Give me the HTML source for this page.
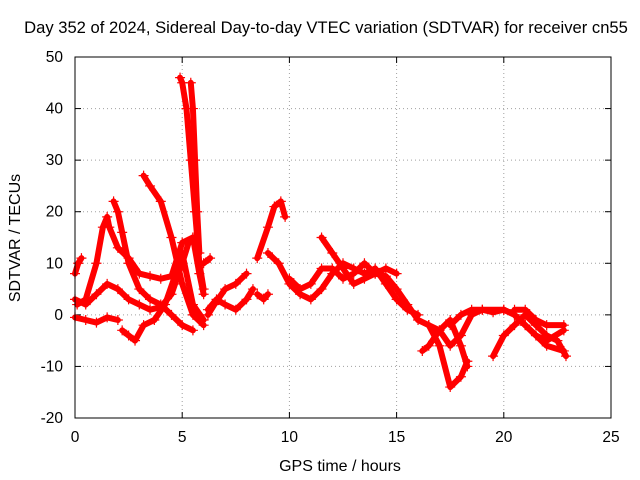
<!DOCTYPE html>
<html><head><meta charset="utf-8"><style>
body{margin:0;background:#fff;}
svg{display:block;font-family:"Liberation Sans",Arial,sans-serif;}
</style></head><body>
<svg id="chart" width="640" height="480">
<rect width="640" height="480" fill="#fff"/>
<text x="326" y="33" font-size="16.6" text-anchor="middle">Day 352 of 2024, Sidereal Day-to-day VTEC variation (SDTVAR) for receiver cn55</text>
<text x="340" y="471" font-size="16" text-anchor="middle">GPS time / hours</text>
<text transform="translate(20,238) rotate(-90)" font-size="16" text-anchor="middle">SDTVAR / TECUs</text>
<g id="grid"></g>
<g id="axes"></g>
<g id="marks"></g>
<rect x="75" y="57" width="536" height="361" fill="none" stroke="#000" stroke-width="1"/>
</svg>
<script>
const xTicks=[0,5,10,15,20,25];
const yTicks=[-20,-10,0,10,20,30,40,50];
const track1=[[0,8],[0.15,10],[0.3,11]];
const track2=[[0,3],[0.5,2],[1,4],[1.5,6],[2,5],[2.5,3],[3,2],[3.5,1],[4,1.5],[4.5,4],[5,10],[5.3,14],[5.5,15],[5.8,8],[6,4]];
const track3=[[0,-0.5],[0.5,-1],[1,-1.5],[1.5,-0.5],[2,-1]];
const track4=[[0.1,2],[0.5,3],[1,10],[1.3,17],[1.5,19],[1.6,17],[2,13],[2.5,11],[3,8],[3.5,7.5],[4,7],[4.5,7.5],[5,14],[5.5,15]];
const track5=[[1.8,22],[2,20],[2.2,16],[2.5,10],[3,5],[3.5,3],[4,2],[4.5,0],[5,-2],[5.5,-3]];
const track6=[[2.2,-3],[2.5,-4],[2.8,-5],[3.2,-2],[3.7,-1],[4.2,2],[4.7,8],[5,12],[5.5,2],[6,-1]];
const track7=[[4.9,46],[5,45],[5.2,40],[5.4,30],[5.6,20],[5.8,10],[6,5]];
const track8=[[5.4,45],[5.5,40],[5.6,30],[5.7,20],[5.8,12]];
const track9=[[3.2,27],[3.5,25],[4,22],[4.5,15],[5,6],[5.5,0],[6,-2]];
const track10=[[6.2,0],[6.5,2],[7,5],[7.5,6],[8,8]];
const track11=[[6.2,1],[6.6,3],[7,2],[7.5,1],[8,3],[8.3,5]];
const track12=[[6,10],[6.3,11]];
const track13=[[8.5,11],[9,17],[9.3,21],[9.6,22],[9.8,19]];
const track14=[[8.5,4],[8.8,3],[9,4]];
const track15=[[9,12],[9.5,10],[10,6],[10.5,4],[11,3],[11.5,5],[12,8],[12.5,10],[13,9],[13.5,8],[14,9],[14.5,6],[15,3],[15.5,1],[16,0]];
const track16=[[11.5,15],[12,12],[12.5,9],[13,6],[13.5,7],[14,8],[14.5,7.5],[15,5],[15.5,2],[16,-1],[16.5,-2],[17,-3]];
const track17=[[10,7],[10.5,5],[11,6],[11.5,9],[12,9],[12.5,7],[13,8],[13.5,10],[14,8],[14.5,9],[15,8]];
const track18=[[16.5,-2],[17,-6],[17.5,-14],[18,-12],[18.3,-9]];
const track19=[[16.2,-7],[16.5,-6],[17,-3],[17.5,-1],[18,-6],[18.3,-10]];
const track20=[[17.5,-2],[18,0],[18.5,1],[19,1],[19.5,0.5],[20,1],[20.5,0],[21,-2],[21.5,-4],[22,-5],[22.8,-3]];
const track21=[[19.5,-8],[20,-4],[20.5,-2],[21,0],[21.5,-2],[22,-4],[22.5,-5],[22.9,-8]];
const track22=[[20.5,1],[21,1],[21.5,-1],[22,-2],[22.8,-2]];
const track23=[[17,-3],[17.5,-6],[18,-4],[18.5,0],[19,1],[20,1],[20.5,0],[21,-2],[21.5,-4],[22,-6],[22.8,-7]];
const tracks=[track1,track2,track3,track4,track5,track6,track7,track8,track9,track10,track11,track12,track13,track14,track15,track16,track17,track18,track19,track20,track21,track22,track23];

const X0=75,X1=611,Y0=418,Y1=57;
const xs=v=>X0+(v-0)/(25-0)*(X1-X0);
const ys=v=>Y0-(v+20)/(70)*(Y0-Y1);
const NS="http://www.w3.org/2000/svg";
const grid=document.getElementById('grid'),axes=document.getElementById('axes'),marks=document.getElementById('marks');
function mk(tag,attrs,parent){const e=document.createElementNS(NS,tag);for(const k in attrs)e.setAttribute(k,attrs[k]);parent.appendChild(e);return e;}
xTicks.forEach(t=>{
  const x=xs(t);
  if(t>0&&t<25){const g=mk('line',{x1:x,x2:x,y1:Y0,y2:Y1,stroke:'#a0a0a0','stroke-dasharray':'1,3'},grid);
  
  }
  mk('line',{x1:x,x2:x,y1:Y0,y2:Y0-6,stroke:'#000'},axes);
  mk('line',{x1:x,x2:x,y1:Y1,y2:Y1+6,stroke:'#000'},axes);
  const l=mk('text',{x:x,y:Y0+24,'font-size':15.5,'text-anchor':'middle'},axes);l.textContent=t;
  
  
});
yTicks.forEach(t=>{
  const y=ys(t);
  if(t>-20&&t<50){const g=mk('line',{x1:X0,x2:X1,y1:y,y2:y,stroke:'#a0a0a0','stroke-dasharray':'1,3'},grid);
  
  }
  mk('line',{x1:X0,x2:X0+6,y1:y,y2:y,stroke:'#000'},axes);
  mk('line',{x1:X1,x2:X1-6,y1:y,y2:y,stroke:'#000'},axes);
  const l=mk('text',{x:X0-12,y:y+5,'font-size':15.5,'text-anchor':'end'},axes);l.textContent=t;
  
  
});
tracks.forEach((tr,i)=>{
  const pts=tr.map(p=>xs(p[0])+','+ys(p[1])).join(' ');
  const pl=mk('polyline',{points:pts,fill:'none',stroke:'#f00','stroke-width':6,'stroke-linejoin':'round','stroke-linecap':'round'},marks);
  
  
  tr.forEach(p=>{
    const x=xs(p[0]),y=ys(p[1]);
    const m=mk('path',{d:`M${x-5},${y}H${x+5}M${x},${y-5}V${y+5}`,stroke:'#f00','stroke-width':1.2},marks);
    
    
  });
});
</script>
</body></html>
